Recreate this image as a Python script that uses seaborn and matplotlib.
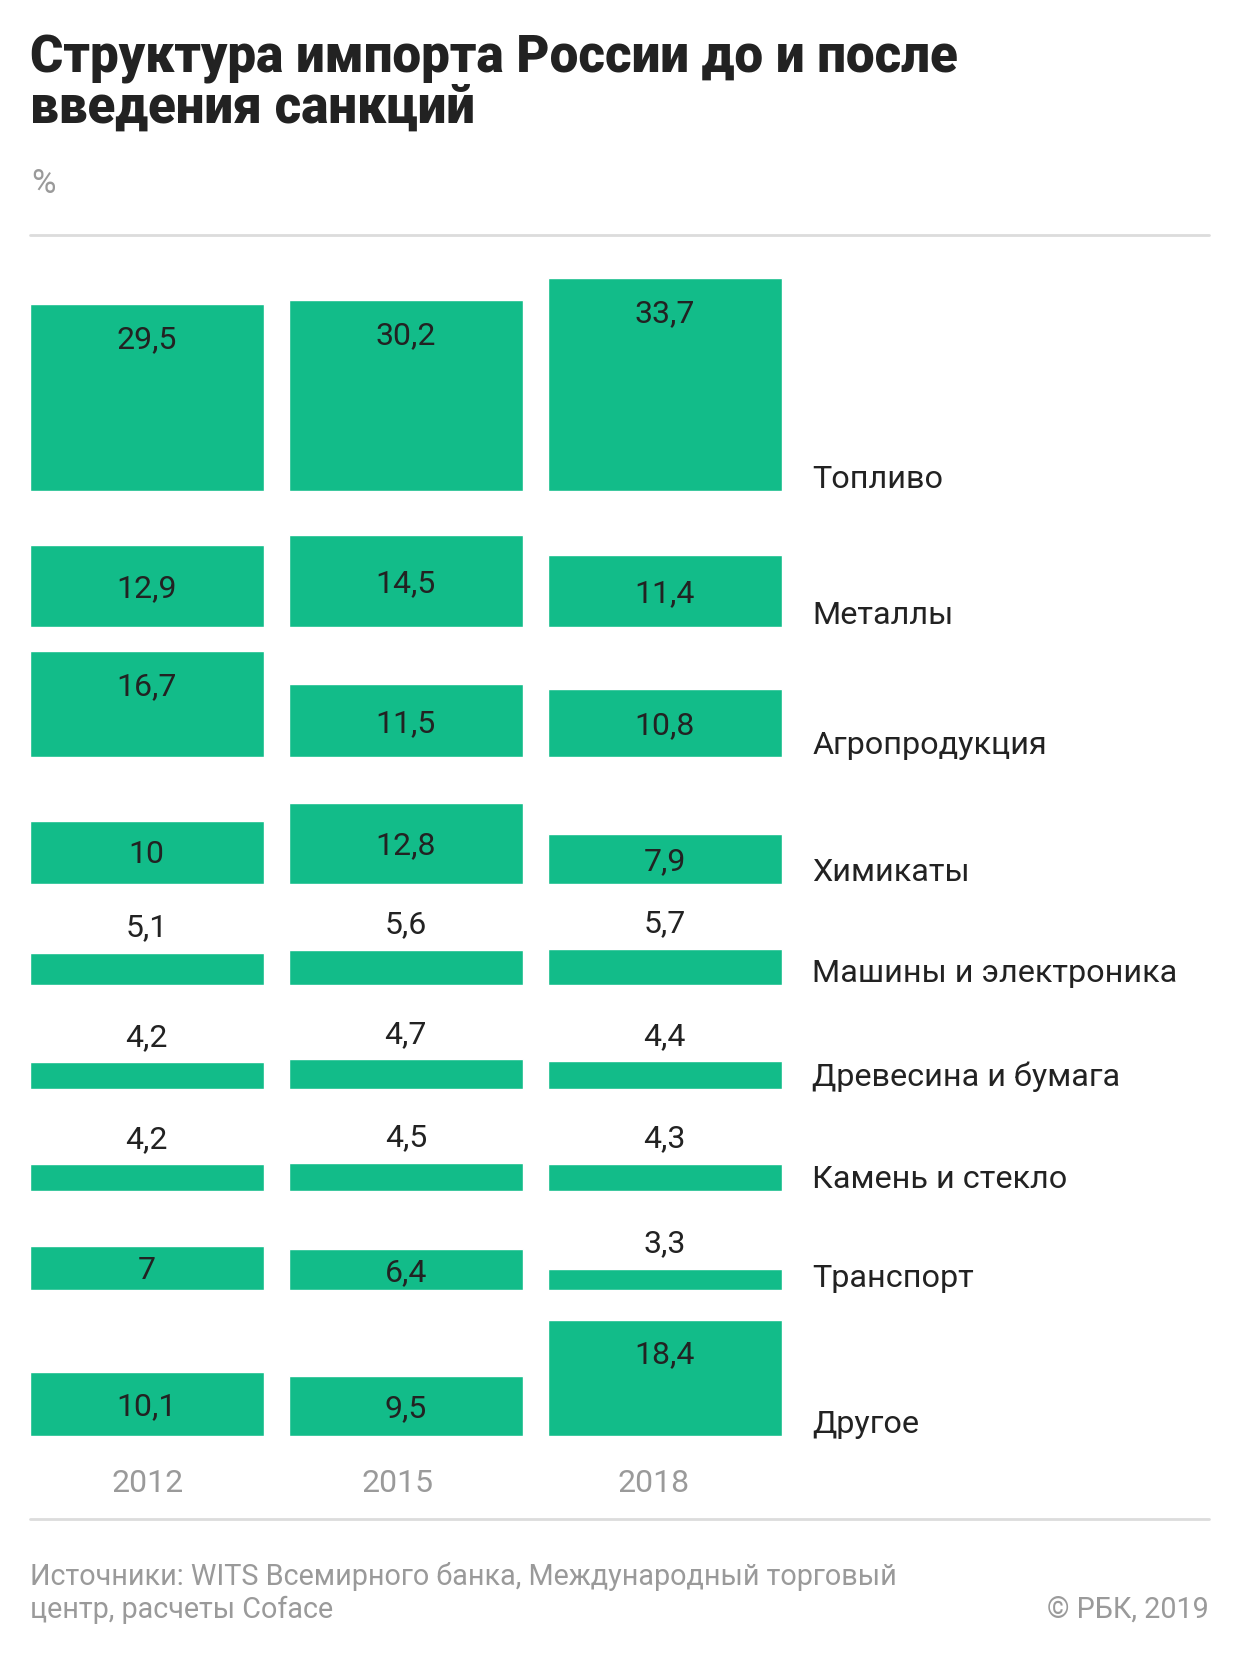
import matplotlib
matplotlib.use("Agg")
import matplotlib.pyplot as plt
import matplotlib.transforms as mtransforms
import seaborn as sns
import pandas as pd

# ---- data ----
years = ["2012", "2015", "2018"]
categories = ["Топливо", "Металлы", "Агропродукция", "Химикаты",
              "Машины и электроника", "Древесина и бумага",
              "Камень и стекло", "Транспорт", "Другое"]
v2012 = [29.5, 12.9, 16.7, 10, 5.1, 4.2, 4.2, 7, 10.1]
v2015 = [30.2, 14.5, 11.5, 12.8, 5.6, 4.7, 4.5, 6.4, 9.5]
v2018 = [33.7, 11.4, 10.8, 7.9, 5.7, 4.4, 4.3, 3.3, 18.4]

title_lines = ["Структура импорта России до и после", "введения санкций"]
unit_label = "%"
source_lines = ["Источники: WITS Всемирного банка, Международный торговый",
                "центр, расчеты Coface"]
copyright_text = "© РБК, 2019"

# ---- style ----
sns.set_theme(style="white")
plt.rcParams["font.family"] = ["Roboto", "DejaVu Sans"]

GREEN = "#12bc89"
DARK = "#222222"
GRAY = "#9a9a9a"
RULE = "#dcdcdc"

W, H = 1240, 1668
fig = plt.figure(figsize=(W / 100, H / 100), dpi=100)
fig.patch.set_facecolor("white")


def fx(px):
    return px / W


def fy(py):
    return 1 - py / H


PPU = 6.33              # pixels per percentage point
baselines = [491, 627, 757, 884, 985, 1089, 1191, 1290, 1436]
AX_LEFT = 17.25
AX_W = 777
AX_H = 240
RIGHT = 1209

# title
title_baselines = [72, 123]
for line, b in zip(title_lines, title_baselines):
    fig.text(fx(30), fy(b), line, fontsize=36.7, fontweight="black",
             color=DARK, va="baseline", ha="left")

fig.text(fx(31), fy(193), unit_label, fontsize=24, color=GRAY,
         va="baseline", ha="left")

# rules
for y in (235, 1519):
    fig.add_artist(plt.Line2D([fx(30), fx(RIGHT)], [fy(y), fy(y)],
                              color=RULE, lw=2, transform=fig.transFigure))

values = list(zip(v2012, v2015, v2018))


def fmt(v):
    return f"{v:g}".replace(".", ",")


last_ax = None
for cat, vals, b in zip(categories, values, baselines):
    ax = fig.add_axes([fx(AX_LEFT), fy(b), fx(AX_W), AX_H / H])
    df = pd.DataFrame({"year": years, "value": list(vals)})
    sns.barplot(data=df, x="year", y="value", order=years, color=GREEN,
                saturation=1, width=0.903, ax=ax, errorbar=None)
    ax.set_xlim(-0.5, 2.5)
    ax.set_ylim(0, AX_H / PPU)
    ax.axis("off")
    ax.patch.set_alpha(0)
    for i, v in enumerate(vals):
        if v >= 15:
            y = v - 5.6
        elif v >= 6:
            y = v / 2 - 0.4
        else:
            y = v + 25 / PPU
        ax.text(i, y, fmt(v), ha="center", va="center", fontsize=23,
                color=DARK)
    fig.text(fx(812.5), fy(b - 3), cat, fontsize=23.3, color=DARK,
             va="baseline", ha="left")
    last_ax = ax

# year labels (slightly shifted as in the original layout)
year_dx_px = [1, -8, -11]
for i, yr in enumerate(years):
    off = mtransforms.ScaledTranslation(year_dx_px[i] / 100, 0, fig.dpi_scale_trans)
    trans = mtransforms.blended_transform_factory(last_ax.transData, fig.transFigure) + off
    last_ax.text(i, fy(1492), yr, transform=trans, ha="center", va="baseline",
                 fontsize=23, color=GRAY)

# footer
for line, b in zip(source_lines, [1585, 1618]):
    fig.text(fx(30), fy(b), line, fontsize=20.7, color=GRAY, va="baseline",
             ha="left")
fig.text(fx(RIGHT), fy(1618), copyright_text, fontsize=20.7, color=GRAY,
         va="baseline", ha="right")

fig.savefig("out.png", dpi=100, facecolor="white")
